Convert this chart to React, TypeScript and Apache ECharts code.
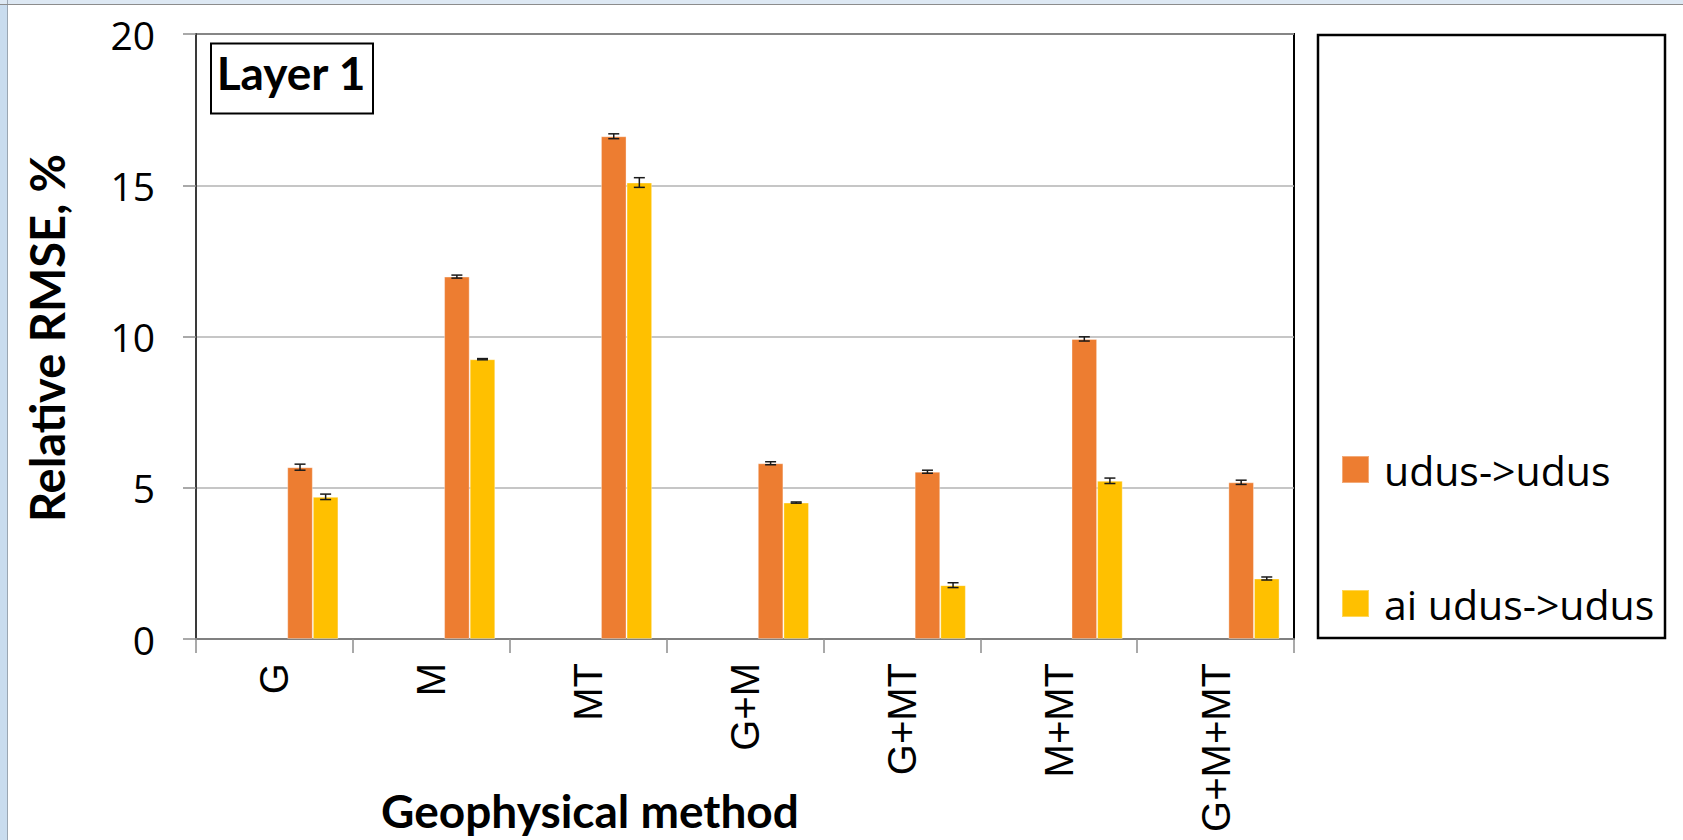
import React, { useEffect, useRef } from "react";
import * as echarts from "echarts";

const categories = ["G", "M", "MT", "G+M", "G+MT", "M+MT", "G+M+MT"];
const seriesNames = ["udus->udus", "ai udus->udus"];
const udus = [5.68, 11.98, 16.62, 5.81, 5.53, 9.92, 5.18];
const udusErr = [0.1, 0.05, 0.08, 0.05, 0.05, 0.07, 0.07];
const aiUdus = [4.7, 9.25, 15.09, 4.51, 1.78, 5.23, 2.0];
const aiUdusErr = [0.09, 0.02, 0.16, 0.02, 0.08, 0.09, 0.05];
const yTicks = { min: 0, max: 20, interval: 5 };
const xTitle = "Geophysical method";
const yTitle = "Relative RMSE, %";
const panelLabel = "Layer 1";

const ORANGE = "#ED7D31";
const YELLOW = "#FFC000";
const BAR_FRAC = 0.1632; // bar width as fraction of category band (5 slots, 3 empty)

export default function App() {
  const ref = useRef<HTMLDivElement>(null);
  useEffect(() => {
    if (!ref.current) return;
    const chart = echarts.init(ref.current, null, { renderer: "svg" });

    const emptySeries = [0, 1, 2].map((i) => ({
      name: "_empty" + i,
      type: "bar",
      data: categories.map(() => null),
      barWidth: (BAR_FRAC * 100).toFixed(2) + "%",
      barGap: "0%",
    }));

    const errSeries = (vals: number[], errs: number[], slot: number) => ({
      type: "custom",
      silent: true,
      z: 5,
      data: vals.map((v, i) => [i, v, errs[i]]),
      encode: { x: 0, y: 1 },
      renderItem: (params: any, api: any) => {
        const c = api.value(0);
        const v = api.value(1);
        const e = api.value(2);
        const band = api.size([1, 0])[0];
        const off = band * BAR_FRAC * slot;
        const top = api.coord([c, v + e]);
        const bot = api.coord([c, v - e]);
        const x = top[0] + off;
        const hw = 5.5;
        const st = { stroke: "#1a1a1a", lineWidth: 1.5 };
        return {
          type: "group",
          children: [
            { type: "line", shape: { x1: x, y1: top[1], x2: x, y2: bot[1] }, style: st },
            { type: "line", shape: { x1: x - hw, y1: top[1], x2: x + hw, y2: top[1] }, style: st },
            { type: "line", shape: { x1: x - hw, y1: bot[1], x2: x + hw, y2: bot[1] }, style: st },
          ],
        };
      },
    });

    chart.setOption({
      animation: false,
      backgroundColor: "#ffffff",
      grid: {
        left: 196,
        top: 34,
        width: 1098,
        height: 605,
        containLabel: false,
        outerBoundsMode: "none",
        show: true,
        borderColor: "#000000",
        borderWidth: 2,
        backgroundColor: "transparent",
      },
      legend: {
        data: seriesNames,
        orient: "vertical",
        left: 1336,
        top: 444,
        icon: "rect",
        itemWidth: 27,
        itemHeight: 27,
        itemGap: 93,
        textStyle: {
          fontFamily: "'Open Sans'",
          fontSize: 41,
          color: "#000",
          lineHeight: 27,
          padding: [0, 0, 0, 10],
        },
      },
      xAxis: {
        type: "category",
        data: categories,
        axisLine: { lineStyle: { color: "#808080", width: 2 } },
        axisTick: { show: true, length: 14, lineStyle: { color: "#8c8c8c", width: 1.5 } },
        axisLabel: {
          rotate: 90,
          margin: 24,
          fontFamily: "'Liberation Sans Narrow', 'Liberation Sans'",
          fontSize: 40,
          color: "#000",
          interval: 0,
        },
        splitLine: { show: false },
      },
      yAxis: {
        type: "value",
        min: yTicks.min,
        max: yTicks.max,
        interval: yTicks.interval,
        axisLine: { show: true, lineStyle: { color: "#3a3a3a", width: 2 } },
        axisTick: { show: true, length: 13, lineStyle: { color: "#8c8c8c", width: 1.5 } },
        axisLabel: {
          margin: 41,
          fontFamily: "'Open Sans'",
          fontSize: 39,
          color: "#000",
        },
        splitLine: { lineStyle: { color: "#b3b3b3", width: 1.5 } },
      },
      series: [
        ...emptySeries,
        {
          name: seriesNames[0],
          type: "bar",
          data: udus,
          barWidth: (BAR_FRAC * 100).toFixed(2) + "%",
          barGap: "0%",
          itemStyle: { color: ORANGE, borderColor: "rgba(255,255,255,0.35)", borderWidth: 1 },
        },
        {
          name: seriesNames[1],
          type: "bar",
          data: aiUdus,
          barWidth: (BAR_FRAC * 100).toFixed(2) + "%",
          barGap: "0%",
          itemStyle: { color: YELLOW, borderColor: "rgba(255,255,255,0.35)", borderWidth: 1 },
        },
        errSeries(udus, udusErr, 1),
        errSeries(aiUdus, aiUdusErr, 2),
      ],
      graphic: [
        { type: "rect", left: 0, top: 0, shape: { width: 7, height: 840 }, style: { fill: "#c9dcee" }, z: -10 },
        { type: "line", shape: { x1: 7.5, y1: 0, x2: 7.5, y2: 840 }, style: { stroke: "#9aa6b2", lineWidth: 1 }, z: -9 },
        { type: "rect", left: 0, top: 0, shape: { width: 1683, height: 4 }, style: { fill: "#dde8f3" }, z: -10 },
        { type: "line", shape: { x1: 0, y1: 4.5, x2: 1683, y2: 4.5 }, style: { stroke: "#8c8c8c", lineWidth: 1 }, z: -9 },
        {
          type: "rect",
          shape: { x: 1318, y: 35, width: 347, height: 603 },
          style: { fill: "transparent", stroke: "#000", lineWidth: 2.5 },
          z: 1,
        },
        {
          type: "rect",
          shape: { x: 211, y: 43.5, width: 162, height: 70 },
          style: { fill: "#fff", stroke: "#000", lineWidth: 2 },
          z: 10,
        },
        {
          type: "text",
          x: 291,
          y: 72,
          z: 11,
          style: {
            text: panelLabel,
            fontFamily: "Lato",
            fontWeight: "bold",
            fontSize: 46,
            fill: "#000",
            align: "center",
            verticalAlign: "middle",
          },
        },
        {
          type: "text",
          x: 590,
          y: 810,
          style: {
            text: xTitle,
            fontFamily: "Lato",
            fontWeight: "bold",
            fontSize: 46,
            fill: "#000",
            align: "center",
            verticalAlign: "middle",
          },
        },
        {
          type: "text",
          x: 47,
          y: 338,
          rotation: Math.PI / 2,
          style: {
            text: yTitle,
            fontFamily: "Lato",
            fontWeight: "bold",
            fontSize: 47,
            fill: "#000",
            align: "center",
            verticalAlign: "middle",
          },
        },
      ],
    });
    return () => chart.dispose();
  }, []);
  return (
    <div
      ref={ref}
      style={{ position: "absolute", left: 0, top: 0, width: 1683, height: 840 }}
    />
  );
}
